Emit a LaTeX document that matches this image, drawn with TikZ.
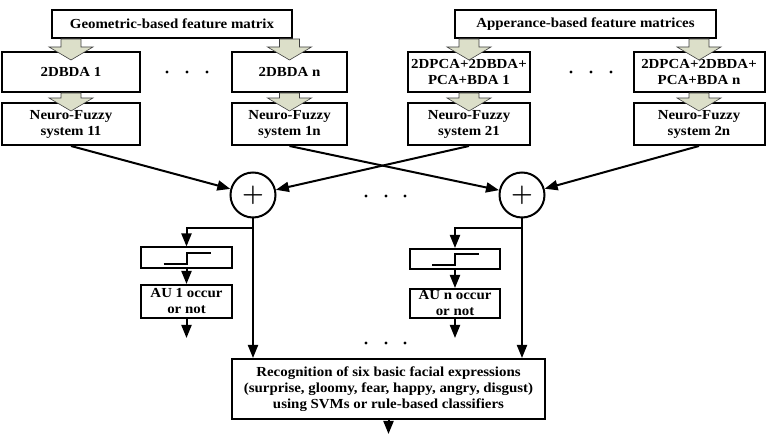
\documentclass[tikz,border=0pt]{standalone}
\usepackage{fontspec}
\setmainfont{Liberation Serif}[FakeStretch=1.08]
\usetikzlibrary{arrows.meta,calc}

\definecolor{arrowFill}{HTML}{DCDFC9}
\definecolor{arrowLine}{HTML}{404040}

\tikzset{
  box/.style={draw, line width=2pt, align=center, inner sep=0pt,
    font=\bfseries\fontsize{13.8}{16}\selectfont},
  sumnode/.style={draw, circle, line width=2pt, minimum size=45pt, inner sep=0pt,
    font=\fontsize{30}{30}\selectfont\boldmath},
  conn/.style={line width=2pt, -{Triangle[length=13pt,width=10pt]}},
  fatarrow/.style={fill=arrowFill, draw=arrowLine, line width=0.6pt},
}

% wide grey arrow from the bottom of #1 into the top of #2
\newcommand{\blockarrow}[2]{%
  \path (#1.south -| #2.north) coordinate (ba-top) (#2.north) coordinate (ba-end);
  \draw[fatarrow] ($(ba-top)+(-10,0)$) -- ($(ba-end)+(-10,-4)$) -- ($(ba-end)+(-22,-4)$)
    -- ($(ba-end)+(0,9)$) -- ($(ba-end)+(22,-4)$) -- ($(ba-end)+(10,-4)$)
    -- ($(ba-top)+(10,0)$) -- cycle;}

\begin{document}
\begin{tikzpicture}[x=1pt,y=-1pt]
\useasboundingbox (0,0) rectangle (766,435);

% feature matrices
\node[box, minimum width=240pt, minimum height=28pt] (geo) at (172,24) {Geometric-based feature matrix};
\node[box, minimum width=261pt, minimum height=28pt] (app) at (585.5,24) {Apperance-based feature matrices};

% projections
\node[box, minimum width=138pt, minimum height=40pt] (bda1) at (71,72) {2DBDA 1};
\node[box, minimum width=115pt, minimum height=40pt] (bdan) at (289.5,72) {2DBDA n};
\node[box, minimum width=122pt, minimum height=40pt] (pca1) at (469,72) {2DPCA+2DBDA+\\PCA+BDA 1};
\node[box, minimum width=131pt, minimum height=40pt] (pcan) at (699,72) {2DPCA+2DBDA+\\PCA+BDA n};

% neuro-fuzzy systems
\node[box, minimum width=138pt, minimum height=42pt] (nf11) at (71,124) {Neuro-Fuzzy\\system 11};
\node[box, minimum width=115pt, minimum height=42pt] (nf1n) at (289.5,124) {Neuro-Fuzzy\\system 1n};
\node[box, minimum width=122pt, minimum height=42pt] (nf21) at (469,124) {Neuro-Fuzzy\\system 21};
\node[box, minimum width=131pt, minimum height=42pt] (nf2n) at (699,124) {Neuro-Fuzzy\\system 2n};

\blockarrow{geo}{bda1}
\blockarrow{geo}{bdan}
\blockarrow{app}{pca1}
\blockarrow{app}{pcan}
\blockarrow{bda1}{nf11}
\blockarrow{bdan}{nf1n}
\blockarrow{pca1}{nf21}
\blockarrow{pcan}{nf2n}

\foreach \x in {167,187,207} \fill (\x,72) circle (1.6);
\foreach \x in {571,591,611} \fill (\x,72) circle (1.6);

% fusion
\node[sumnode] (sum1) at (253,195) {$+$};
\node[sumnode] (sum2) at (522,195) {$+$};

\draw[conn] (nf11.south) -- (sum1);
\draw[conn] (nf21.south) -- (sum1);
\draw[conn] (nf1n.south) -- (sum2);
\draw[conn] (nf2n.south) -- (sum2);

\foreach \x in {366,386,405} {
  \fill (\x,196) circle (1.6);
  \fill (\x,343) circle (1.6);
}

% thresholds and AU decisions
\node[box, minimum width=91pt, minimum height=21pt] (thr1) at (186.5,258) {};
\node[box, minimum width=90pt, minimum height=20pt] (thrn) at (455,259) {};
\draw[line width=2pt] ($(thr1.center)+(-23,6)$) -- ++(23,0) -- ++(0,-11) -- ++(24,0);
\draw[line width=2pt] ($(thrn.center)+(-23,6)$) -- ++(23,0) -- ++(0,-11) -- ++(24,0);

\node[box, minimum width=91pt, minimum height=33pt] (au1) at (186.5,301.5) {AU 1 occur\\or not};
\node[box, minimum width=90pt, minimum height=29pt] (aun) at (455,303.5) {AU n occur\\or not};

\node[box, minimum width=313pt, minimum height=60pt] (rec) at (388.5,389)
  {Recognition of six basic facial expressions\\(surprise, gloomy, fear, happy, angry, disgust)\\using SVMs or rule-based classifiers};

\coordinate (out1) at (186.5,338);
\coordinate (outn) at (455,338);
\coordinate (recout) at (388.5,434);

\draw[conn] (sum1.south) -- ++(0,10) -| (thr1.north);
\draw[conn] (sum2.south) -- ++(0,10) -| (thrn.north);
\draw[conn] (sum1.south) -- (sum1.south |- rec.north);
\draw[conn] (sum2.south) -- (sum2.south |- rec.north);
\draw[conn] (thr1.south) -- (au1.north);
\draw[conn] (thrn.south) -- (aun.north);
\draw[conn] (au1.south) -- (out1);
\draw[conn] (aun.south) -- (outn);
\draw[conn] (rec.south) -- (recout);
\end{tikzpicture}
\end{document}
